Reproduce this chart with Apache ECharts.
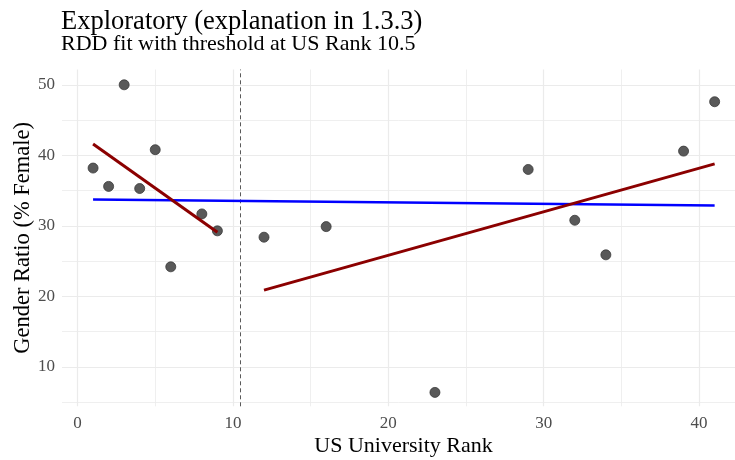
<!DOCTYPE html>
<html>
<head>
<meta charset="utf-8">
<script src="https://cdn.jsdelivr.net/npm/echarts@6/dist/echarts.min.js"></script>
<style>
html,body{margin:0;padding:0;background:#fff;}
#chart{width:735px;height:460px;}
</style>
</head>
<body>
<div id="chart"></div>
<script>
// Data
var rank  = [1, 2, 3, 4, 5, 6, 8, 9, 12, 16, 23, 29, 32, 34, 39, 41];
var ratio = [38.2, 35.6, 50.0, 35.3, 40.8, 24.2, 31.7, 29.3, 28.4, 29.9, 6.4, 38.0, 30.8, 25.9, 40.6, 47.6];

// fitted lines (endpoints)
var fitAllX = [1, 41];
var fitAllY = [33.75, 32.9];
var fitLeftX = [1, 9];
var fitLeftY = [41.6, 29.1];
var fitRightX = [12, 41];
var fitRightY = [20.9, 38.8];

var threshold = 10.5;

var xTicks = [0, 10, 20, 30, 40];
var xMinor = [5, 15, 25, 35];
var yTicks = [10, 20, 30, 40, 50];
var yMinor = [5, 15, 25, 35, 45];

var serif = "'Liberation Serif', 'DejaVu Serif', serif";

function pairs(xs, ys){ return xs.map(function(x,i){ return [x, ys[i]]; }); }

var chart = echarts.init(document.getElementById('chart'), null, {renderer:'canvas'});

var gridColor = '#EBEBEB';

var option = {
  animation: false,
  backgroundColor: '#fff',
  title: [
    {text: 'Exploratory (explanation in 1.3.3)', left: 61, top: 9, padding: 0,
     textStyle: {fontFamily: serif, fontSize: 26.5, fontWeight: 'normal', color: '#000'}},
    {text: 'RDD fit with threshold at US Rank 10.5', left: 61, top: 33, padding: 0,
     textStyle: {fontFamily: serif, fontSize: 22, fontWeight: 'normal', color: '#000'}}
  ],
  grid: {left: 62, right: 0, top: 69.5, bottom: 53.7, containLabel: false, outerBoundsMode: 'none'},
  xAxis: {
    type: 'value', min: -1, max: 42.31,
    name: 'US University Rank', nameLocation: 'middle', nameGap: 29, nameMoveOverlap: false,
    nameTextStyle: {fontFamily: serif, fontSize: 22, color: '#000', padding: [0,0,0,10]},
    axisLine: {show: false}, axisTick: {show: false}, splitLine: {show: false},
    axisLabel: {
      fontFamily: serif, fontSize: 17, color: '#4D4D4D', margin: 9,
      showMinLabel: true, showMaxLabel: true,
      formatter: function(v){ return xTicks.indexOf(v) >= 0 ? String(v) : ''; }
    }
  },
  yAxis: {
    type: 'value', min: 4.43, max: 52.17,
    name: 'Gender Ratio (% Female)', nameLocation: 'middle', nameGap: 27, nameMoveOverlap: false,
    nameTextStyle: {fontFamily: serif, fontSize: 22.5, color: '#000'},
    axisLine: {show: false}, axisTick: {show: false}, splitLine: {show: false},
    axisLabel: {
      fontFamily: serif, fontSize: 17, color: '#4D4D4D', margin: 7,
      formatter: function(v){ return yTicks.indexOf(v) >= 0 ? String(v) : ''; }
    }
  },
  series: [
    {
      type: 'line', data: [], z: 0, silent: true,
      markLine: {
        silent: true, z: 0, symbol: ['none','none'], label: {show: false}, animation: false,
        data: [].concat(
          xMinor.map(function(v){ return {xAxis: v, lineStyle: {color: gridColor, width: 0.8, type: 'solid'}}; }),
          yMinor.map(function(v){ return {yAxis: v, lineStyle: {color: gridColor, width: 0.8, type: 'solid'}}; }),
          xTicks.map(function(v){ return {xAxis: v, lineStyle: {color: gridColor, width: 1.2, type: 'solid'}}; }),
          yTicks.map(function(v){ return {yAxis: v, lineStyle: {color: gridColor, width: 1.2, type: 'solid'}}; })
        )
      }
    },
    {
      type: 'line', data: [], z: 1, silent: true,
      markLine: {
        silent: true, z: 1, symbol: ['none','none'], label: {show: false}, animation: false,
        data: [{xAxis: threshold, lineStyle: {color: '#5a5a5a', width: 1, type: [4,3]}}]
      }
    },
    {
      type: 'scatter', data: pairs(rank, ratio), symbolSize: 10, z: 3,
      itemStyle: {color: '#595959', borderColor: '#3a3a3a', borderWidth: 0.8, opacity: 1}
    },
    {
      type: 'line', data: pairs(fitAllX, fitAllY), showSymbol: false, symbol: 'none', z: 4,
      lineStyle: {color: '#0000FF', width: 2.5}
    },
    {
      type: 'line', data: pairs(fitLeftX, fitLeftY), showSymbol: false, symbol: 'none', z: 5,
      lineStyle: {color: '#8B0000', width: 3}
    },
    {
      type: 'line', data: pairs(fitRightX, fitRightY), showSymbol: false, symbol: 'none', z: 5,
      lineStyle: {color: '#8B0000', width: 3}
    }
  ]
};
chart.setOption(option);
</script>
</body>
</html>
